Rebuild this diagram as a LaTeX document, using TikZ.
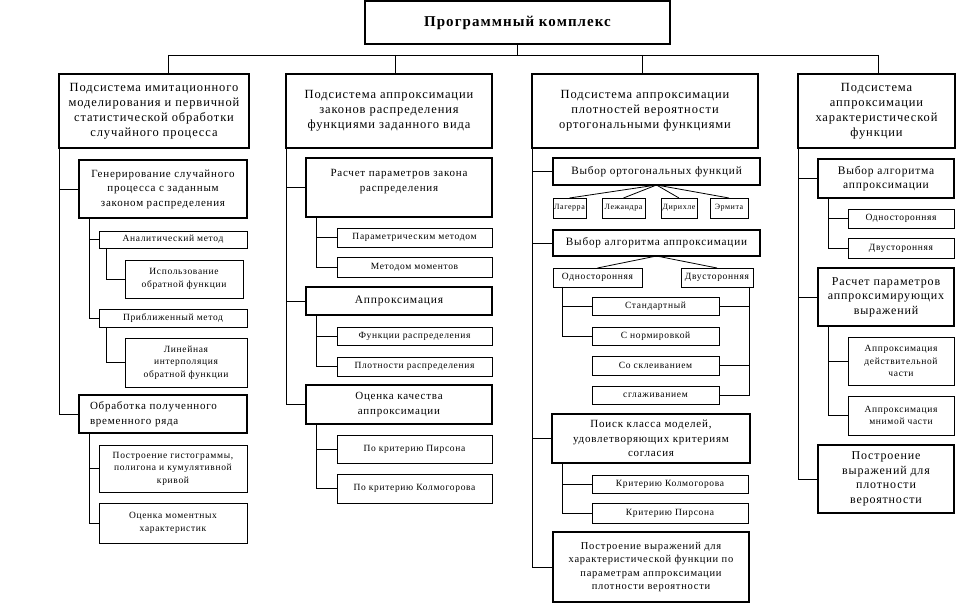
\documentclass[tikz,border=0pt]{standalone}
\usepackage{fontspec}
\setmainfont{Liberation Serif}[LetterSpace=7]
\newcommand\bx[7]{\node[#6, minimum width={(#4-#2)*1pt}, minimum height={(#5-#3)*1pt}] (#1) at ({(#2+#4)/2},{(#3+#5)/2}) {#7};}
\tikzset{
 big/.style={draw, line width=1.6pt, inner sep=0pt, outer sep=0pt, align=center, font=\fontsize{11}{14.5}\selectfont},
 bigD/.style={big, font=\fontsize{12}{14.5}\selectfont},
 head/.style={big, font=\fontsize{12.5}{15}\selectfont},
 leaf/.style={draw, line width=0.8pt, inner sep=0pt, outer sep=0pt, align=center, font=\fontsize{9.5}{12.5}\selectfont},
 tinyleaf/.style={leaf, font=\fontsize{8}{8}\selectfont},
 conn/.style={line width=0.8pt},
}
\begin{document}
\begin{tikzpicture}[x=1pt,y=-1pt]
\useasboundingbox[fill=white] (0,0) rectangle (958,612);
% top
\bx{top}{365}{1}{670}{44}{big, font=\fontsize{15}{17}\selectfont\bfseries}{Программный комплекс}
% level 1
\bx{A}{59}{74}{249}{148}{head}{Подсистема имитационного\\моделирования и первичной\\статистической обработки\\случайного процесса}
\bx{B}{286}{74}{492}{148}{head}{Подсистема аппроксимации\\законов распределения\\функциями заданного вида}
\bx{C}{532}{74}{758}{148}{head}{Подсистема аппроксимации\\плотностей вероятности\\ортогональными функциями}
\bx{D}{798}{74}{955}{148}{head}{Подсистема\\аппроксимации\\характеристической\\функции}
\coordinate (jA) at (168,55);
\coordinate (jB) at (395,55);
\coordinate (jC) at (642,55);
\coordinate (jD) at (878,55);
\draw[conn] (top.south) -- (top.south |- jA);
\draw[conn] (jA) -- (jD);
\draw[conn] (jA) -- (jA |- A.north);
\draw[conn] (jB) -- (jB |- B.north);
\draw[conn] (jC) -- (jC |- C.north);
\draw[conn] (jD) -- (jD |- D.north);
% column A
\bx{A1}{79}{160}{247}{218}{big}{Генерирование случайного\\процесса с заданным\\законом распределения}
\bx{A1a}{99}{231}{247}{248}{leaf}{Аналитический метод}
\bx{A1a1}{125}{260}{243}{298}{leaf}{Использование\\обратной функции}
\bx{A1b}{99}{309}{247}{327}{leaf}{Приближенный метод}
\bx{A1b1}{125}{338}{247}{387}{leaf}{Линейная\\интерполяция\\обратной функции}
\bx{A2}{79}{395}{247}{433}{big, align=left, text width=146pt}{Обработка полученного\\временного ряда}
\bx{A2a}{99}{445}{247}{492}{leaf}{Построение гистограммы,\\полигона и кумулятивной\\кривой}
\bx{A2b}{99}{503}{247}{543}{leaf}{Оценка моментных\\характеристик}
\draw[conn] (A.south west) |- (A1.west);
\draw[conn] (A.south west) |- (A2.west);
\draw[conn] ([xshift=10pt]A1.south west) |- (A1a.west);
\draw[conn] ([xshift=10pt]A1.south west) |- (A1b.west);
\draw[conn] ([xshift=7pt]A1a.south west) |- (A1a1.west);
\draw[conn] ([xshift=7pt]A1b.south west) |- (A1b1.west);
\draw[conn] ([xshift=10pt]A2.south west) |- (A2a.west);
\draw[conn] ([xshift=10pt]A2.south west) |- (A2b.west);
% column B
\bx{B1}{306}{158}{492}{217}{big}{Расчет параметров закона\\распределения\\\mbox{}}
\bx{B1a}{337}{228}{492}{247}{leaf}{Параметрическим методом}
\bx{B1b}{337}{257}{492}{277}{leaf}{Методом моментов}
\bx{B2}{306}{287}{492}{315}{big, font=\fontsize{11.5}{15}\selectfont}{Аппроксимация}
\bx{B2a}{337}{327}{492}{345}{leaf}{Функции распределения}
\bx{B2b}{337}{357}{492}{376}{leaf}{Плотности распределения}
\bx{B3}{306}{385}{492}{424}{big}{Оценка качества\\аппроксимации}
\bx{B3a}{337}{435}{492}{463}{leaf}{По критерию Пирсона}
\bx{B3b}{337}{474}{492}{503}{leaf}{По критерию Колмогорова}
\draw[conn] (B.south west) |- (B1.west);
\draw[conn] (B.south west) |- (B2.west);
\draw[conn] (B.south west) |- (B3.west);
\draw[conn] ([xshift=10pt]B1.south west) |- (B1a.west);
\draw[conn] ([xshift=10pt]B1.south west) |- (B1b.west);
\draw[conn] ([xshift=10pt]B2.south west) |- (B2a.west);
\draw[conn] ([xshift=10pt]B2.south west) |- (B2b.west);
\draw[conn] ([xshift=10pt]B3.south west) |- (B3a.west);
\draw[conn] ([xshift=10pt]B3.south west) |- (B3b.west);
% column C
\bx{C1}{553}{158}{760}{185}{big, font=\fontsize{11.2}{14.5}\selectfont}{Выбор ортогональных функций}
\bx{lag}{553}{198}{586}{218}{tinyleaf}{Лагерра}
\bx{lez}{602}{198}{645}{218}{tinyleaf}{Лежандра}
\bx{dir}{661}{198}{697}{218}{tinyleaf}{Дирихле}
\bx{erm}{710}{198}{748}{218}{tinyleaf}{Эрмита}
\draw[conn] (C1.south) -- (lag.north);
\draw[conn] (C1.south) -- (lez.north);
\draw[conn] (C1.south) -- (dir.north);
\draw[conn] (C1.south) -- (erm.north);
\bx{C2}{553}{230}{760}{256}{big, font=\fontsize{11.2}{14.5}\selectfont}{Выбор алгоритма аппроксимации}
\bx{one}{553}{268}{642}{287}{leaf}{Односторонняя}
\bx{two}{681}{268}{753}{287}{leaf}{Двусторонняя}
\draw[conn] (C2.south) -- (one.north);
\draw[conn] (C2.south) -- (two.north);
\bx{st}{592}{297}{719}{315}{leaf}{Стандартный}
\bx{norm}{592}{327}{719}{345}{leaf}{С нормировкой}
\bx{skl}{592}{356}{719}{375}{leaf}{Со склеиванием}
\bx{sgl}{592}{386}{719}{404}{leaf}{сглаживанием}
\draw[conn] ([xshift=9pt]one.south west) |- (st.west);
\draw[conn] ([xshift=9pt]one.south west) |- (norm.west);
\draw[conn] ([xshift=-4pt]two.south east) |- (st.east);
\draw[conn] ([xshift=-4pt]two.south east) |- (skl.east);
\draw[conn] ([xshift=-4pt]two.south east) |- (sgl.east);
\bx{C3}{552}{414}{750}{463}{big}{Поиск класса моделей,\\удовлетворяющих критериям\\согласия}
\bx{C3a}{592}{475}{748}{493}{leaf}{Критерию Колмогорова}
\bx{C3b}{592}{503}{748}{523}{leaf}{Критерию Пирсона}
\draw[conn] ([xshift=10pt]C3.south west) |- (C3a.west);
\draw[conn] ([xshift=10pt]C3.south west) |- (C3b.west);
\bx{C4}{553}{532}{749}{602}{big, font=\fontsize{10.5}{13.3}\selectfont}{Построение выражений для\\характеристической функции по\\параметрам аппроксимации\\плотности вероятности}
\draw[conn] (C.south west) |- (C1.west);
\draw[conn] (C.south west) |- (C2.west);
\draw[conn] (C.south west) |- (C3.west);
\draw[conn] (C.south west) |- (C4.west);
% column D
\bx{D1}{818}{159}{954}{198}{big, font=\fontsize{11.5}{14.5}\selectfont}{Выбор алгоритма\\аппроксимации}
\bx{D1a}{848}{209}{954}{228}{leaf}{Односторонняя}
\bx{D1b}{848}{238}{954}{258}{leaf}{Двусторонняя}
\bx{D2}{818}{268}{954}{326}{bigD}{Расчет параметров\\аппроксимирующих\\выражений}
\bx{D2a}{848}{337}{954}{385}{leaf}{Аппроксимация\\действительной\\части}
\bx{D2b}{848}{396}{954}{435}{leaf}{Аппроксимация\\мнимой части}
\bx{D3}{818}{445}{954}{513}{bigD}{Построение\\выражений для\\плотности\\вероятности}
\draw[conn] (D.south west) |- (D1.west);
\draw[conn] (D.south west) |- (D2.west);
\draw[conn] (D.south west) |- (D3.west);
\draw[conn] ([xshift=10pt]D1.south west) |- (D1a.west);
\draw[conn] ([xshift=10pt]D1.south west) |- (D1b.west);
\draw[conn] ([xshift=10pt]D2.south west) |- (D2a.west);
\draw[conn] ([xshift=10pt]D2.south west) |- (D2b.west);
\end{tikzpicture}
\end{document}
